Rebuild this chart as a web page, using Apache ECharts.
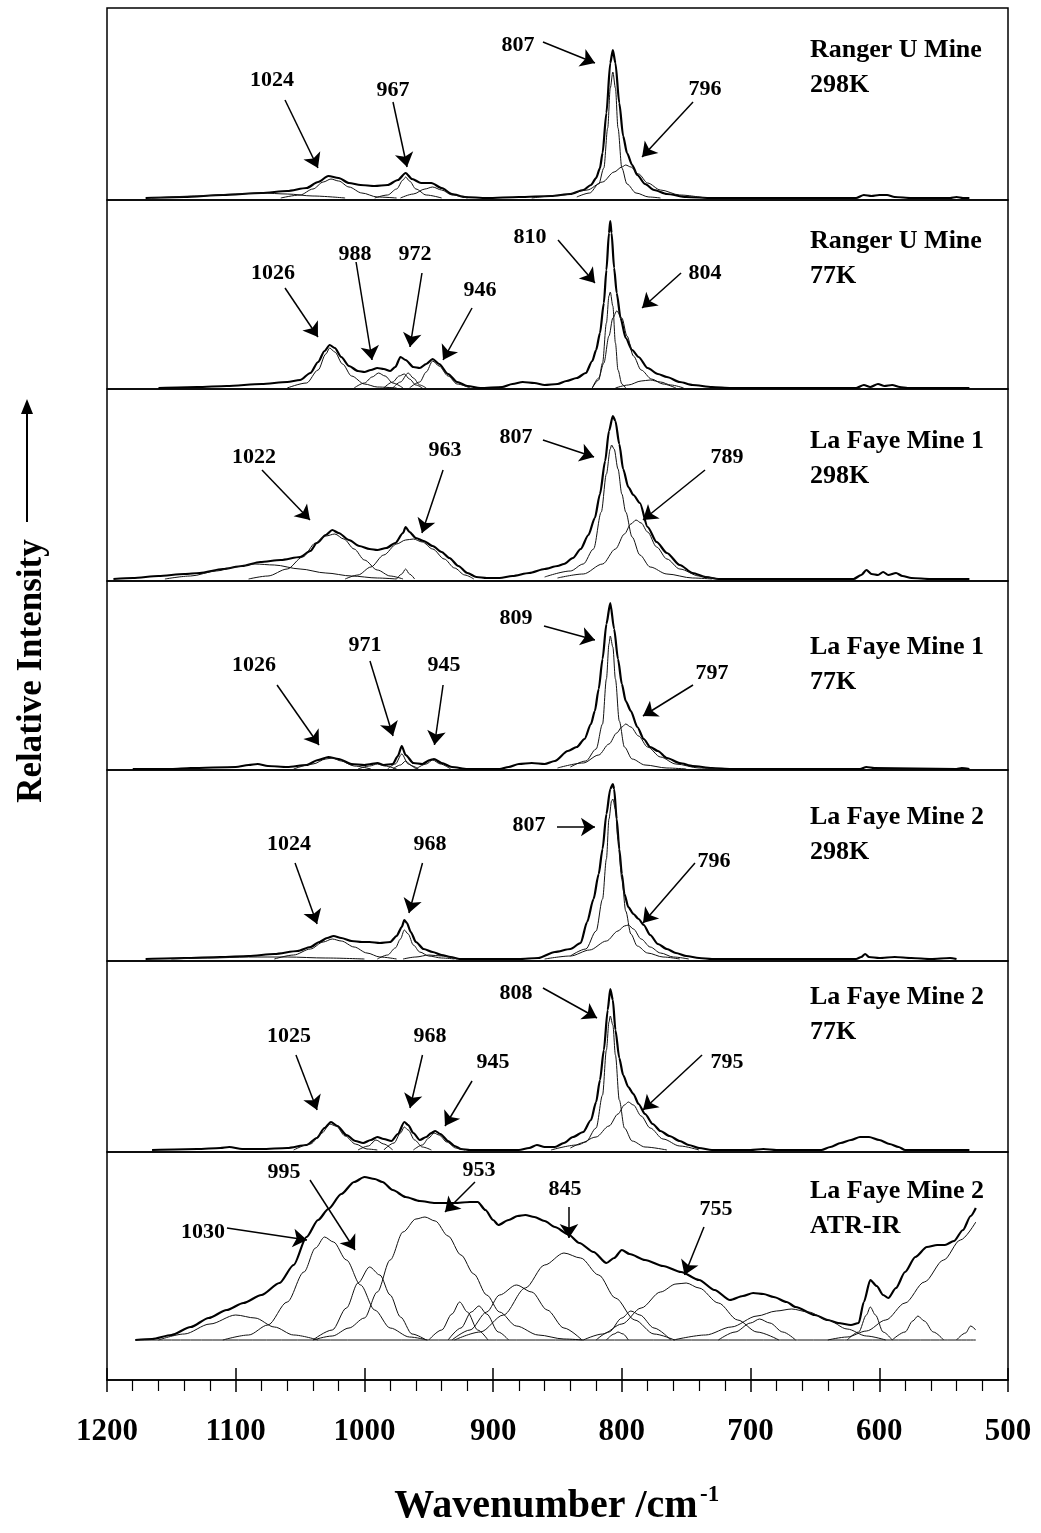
<!DOCTYPE html>
<html>
<head>
<meta charset="utf-8">
<script src="https://cdn.jsdelivr.net/npm/echarts@6/dist/echarts.min.js"></script>
<style>
  html, body { margin: 0; background: #fff; }
  #chart { width: 1041px; height: 1533px; }
</style>
</head>
<body>
<div id="chart"></div>
<script>
// wavenumber range (cm-1)
const wnMin = 500, wnMax = 1200, wnStep = 100;

// heights are read off the picture, in pixels above each panel's baseline
// ---- Ranger U Mine 298K
const env1 = [[1170,0],[1140,1],[1110,3],[1080,5],[1060,7],[1045,10],[1036,16],[1028,22],[1020,20],[1012,15],[1003,13],[992,12],[982,13],[974,18],[968,25],[963,19],[956,15],[948,15],[940,10],[932,4],[922,1],[905,0],[880,1],[855,2],[840,4],[830,8],[824,13],[820,20],[817,30],[815,45],[812,85],[809,135],[807,148],[805,135],[802,95],[799,62],[796,45],[792,33],[788,23],[782,14],[775,8],[765,4],[750,1],[730,0],[618,0],[612,3],[606,2],[600,3],[594,3],[588,1],[575,0],[545,0],[540,1],[535,0],[530,0]];
const c1a = [[835,1],[825,5],[818,14],[814,30],[811,70],[809,110],[807,126],[805,110],[803,70],[800,30],[796,14],[789,5],[779,1],[770,0]];
const c1b = [[870,0],[845,3],[827,8],[815,16],[806,26],[800,31],[797,33],[793,31],[787,24],[780,15],[770,8],[755,3],[735,0]];
const c1c = [[1065,0],[1050,3],[1040,9],[1032,16],[1026,19],[1020,17],[1012,11],[1002,5],[990,1],[975,0]];
const c1d = [[992,0],[982,3],[975,9],[970,18],[968,21],[965,17],[960,9],[952,3],[940,0]];
const c1e = [[972,0],[962,4],[953,9],[947,11],[940,8],[932,3],[920,0]];
const c1f = [[1165,0],[1130,2],[1100,4],[1080,5],[1060,4],[1040,2],[1015,0]];
const peaks1 = [
  ['1024', [1071.8,118], [1061.7,98], [1036.1,30]],
  ['967', [977.8,108], [977.8,96], [966.9,31]],
  ['807', [880.7,153], [861.3,156], [820.9,135]],
  ['796', [735.4,109], [744.7,96], [784.3,41]]
];

// ---- Ranger U Mine 77K
const env2 = [[1160,0],[1130,1],[1107,2],[1080,4],[1060,6],[1050,8],[1042,15],[1036,26],[1031,37],[1027,43],[1023,40],[1018,31],[1012,22],[1005,17],[1000,16],[995,18],[990,20],[985,19],[980,17],[976,21],[972,31],[968,28],[962,21],[957,20],[952,24],[947,29],[942,24],[935,14],[928,6],[920,2],[910,0],[893,1],[885,4],[877,6],[868,5],[860,3],[850,4],[843,7],[835,10],[828,15],[823,27],[820,38],[817,55],[814,85],[812,118],[810,155],[809,167],[808,155],[806,120],[804,95],[801,70],[797,50],[792,38],[787,31],[780,20],[772,14],[765,11],[755,6],[745,3],[730,1],[715,0],[618,0],[612,3],[607,1],[601,4],[596,2],[590,3],[584,1],[578,0],[530,0]];
const c2a = [[823,0],[818,8],[815,25],[812,65],[810,92],[809,96],[807,82],[805,45],[803,18],[800,4],[797,0]];
const c2b = [[823,0],[818,10],[814,25],[810,52],[807,70],[804,77],[800,70],[796,52],[791,32],[785,18],[777,9],[768,4],[758,0]];
const c2c = [[805,0],[795,3],[785,7],[778,8],[770,6],[762,3],[752,0]];
const c2d = [[1060,0],[1045,5],[1036,18],[1030,34],[1027,40],[1023,36],[1017,24],[1010,12],[1000,4],[990,1],[975,0]];
const c2e = [[1008,0],[1000,5],[994,11],[989,15],[984,12],[978,5],[970,0]];
const c2f = [[985,0],[978,6],[973,12],[969,14],[965,9],[960,3],[955,0]];
const c2g = [[978,0],[972,6],[966,15],[962,10],[957,3],[952,0]];
const c2h = [[965,0],[957,6],[952,16],[947,27],[942,22],[935,12],[928,4],[918,0]];
const peaks2 = [
  ['1026', [1071.0,115], [1061.7,100], [1036.1,51]],
  ['988', [1007.3,134], [1006.5,126], [994.1,28]],
  ['972', [960.7,134], [955.3,115], [964.6,41]],
  ['946', [910.2,98], [916.4,80], [938.9,28]],
  ['810', [871.4,151], [849.6,148], [820.9,105]],
  ['804', [735.4,115], [754.0,115], [784.3,80]]
];

// ---- La Faye Mine 1 298K
const env3 = [[1195,0],[1180,1],[1160,3],[1140,5],[1128,6],[1110,10],[1095,13],[1081,17],[1065,19],[1050,22],[1042,28],[1037,36],[1030,44],[1025,49],[1020,46],[1012,39],[1004,33],[996,30],[990,29],[983,31],[976,36],[970,46],[968,52],[965,47],[960,41],[954,38],[947,33],[940,27],[934,21],[927,13],[920,6],[913,2],[905,1],[895,1],[885,3],[872,6],[860,10],[850,13],[845,15],[838,21],[832,30],[826,44],[821,61],[817,85],[813,118],[810,148],[807,163],[805,158],[802,135],[799,110],[795,92],[791,84],[786,76],[780,52],[773,37],[765,26],[755,14],[745,6],[735,2],[725,0],[620,0],[614,4],[610,9],[606,5],[601,4],[597,7],[593,4],[587,6],[582,3],[575,1],[560,0],[530,0]];
const c3a = [[860,2],[840,8],[830,15],[822,30],[816,67],[812,105],[809,130],[808,134],[806,130],[803,110],[800,85],[797,67],[792,42],[786,24],[778,12],[765,5],[745,1],[730,0]];
const c3b = [[850,1],[830,5],[815,15],[805,30],[798,45],[793,55],[789,59],[785,56],[780,47],[773,32],[765,20],[755,10],[740,3],[725,0]];
const c3c = [[1090,0],[1075,3],[1060,10],[1048,22],[1038,36],[1030,43],[1023,45],[1016,40],[1008,30],[1000,19],[990,9],[980,3],[970,0]];
const c3d = [[1015,0],[1005,4],[995,12],[985,24],[975,35],[968,39],[962,40],[955,37],[947,30],[938,20],[930,11],[922,4],[915,0]];
const c3e = [[1155,0],[1135,3],[1115,8],[1100,12],[1085,15],[1070,14],[1050,10],[1030,6],[1010,3],[990,1],[975,0]];
const c3f = [[975,0],[971,5],[968,10],[965,5],[961,0]];
const peaks3 = [
  ['1022', [1085.8,122], [1079.6,109], [1042.3,59]],
  ['963', [937.4,129], [938.9,109], [955.3,46]],
  ['807', [882.2,142], [861.3,139], [821.6,122]],
  ['789', [718.3,122], [735.4,109], [783.6,59]]
];

// ---- La Faye Mine 1 77K
const env4 = [[1180,0],[1150,0],[1135,1],[1100,2],[1090,4],[1083,5],[1075,3],[1060,2],[1045,4],[1036,9],[1028,12],[1020,10],[1010,5],[1000,4],[995,5],[990,6],[985,4],[978,5],[974,13],[971,23],[968,14],[962,6],[955,5],[949,9],[946,10],[940,6],[932,2],[920,0],[895,0],[888,2],[880,5],[870,6],[860,5],[852,8],[842,18],[835,22],[829,30],[824,45],[821,58],[818,80],[815,110],[812,145],[809,166],[806,140],[803,110],[800,85],[797,68],[793,58],[788,42],[783,30],[778,22],[772,18],[765,11],[755,6],[745,3],[730,1],[715,0],[615,0],[610,2],[604,1],[540,0],[536,1],[530,0]];
const c4a = [[840,2],[828,8],[820,20],[815,45],[812,90],[810,125],[809,133],[807,122],[805,90],[802,48],[798,22],[792,10],[782,4],[765,1],[750,0]];
const c4b = [[850,1],[830,6],[818,14],[810,25],[804,36],[800,42],[797,45],[793,42],[787,33],[780,22],[770,12],[758,5],[740,1],[725,0]];
const c4c = [[982,0],[976,5],[971,15],[966,5],[960,0]];
const c4d = [[978,0],[972,4],[968,8],[963,3],[958,0]];
const c4e = [[960,0],[952,5],[947,9],[941,5],[933,0]];
const c4f = [[1055,0],[1040,5],[1030,10],[1025,11],[1018,8],[1008,3],[995,0]];
const c4g = [[1005,0],[996,3],[990,5],[984,3],[975,0]];
const peaks4 = [
  ['1026', [1085.8,104], [1067.9,84], [1035.3,24]],
  ['971', [999.6,124], [995.7,108], [977.8,33]],
  ['945', [938.2,104], [938.9,84], [945.6,24]],
  ['809', [882.2,151], [860.5,143], [820.9,129]],
  ['797', [729.9,96], [744.7,84], [783.6,53]]
];

// ---- La Faye Mine 2 298K
const env5 = [[1170,0],[1140,1],[1112,2],[1090,3],[1070,5],[1052,8],[1042,12],[1035,17],[1029,21],[1024,23],[1018,21],[1010,18],[1002,17],[996,17],[988,16],[980,17],[975,23],[971,32],[969,39],[967,36],[964,27],[960,17],[954,10],[947,7],[940,4],[933,2],[926,0],[880,0],[865,1],[852,7],[840,10],[832,16],[827,37],[822,60],[818,85],[815,110],[812,145],[809,170],[807,175],[806,170],[804,140],[802,110],[800,85],[798,65],[795,52],[791,45],[787,40],[783,34],[778,24],[772,15],[765,10],[758,6],[750,3],[740,1],[730,0],[618,0],[614,2],[611,5],[608,2],[600,1],[588,2],[575,1],[560,0],[545,1],[540,0]];
const c5a = [[840,3],[828,10],[820,28],[815,60],[812,100],[810,140],[808,158],[807,160],[805,150],[803,120],[800,80],[797,48],[793,25],[788,13],[780,6],[768,2],[755,0]];
const c5b = [[860,0],[840,3],[825,9],[812,18],[803,28],[798,33],[795,34],[791,30],[785,20],[778,12],[770,6],[760,2],[748,0]];
const c5c = [[990,0],[982,4],[976,11],[972,20],[969,29],[966,25],[962,14],[957,7],[950,3],[940,1],[930,0]];
const c5d = [[1070,0],[1055,4],[1042,10],[1032,17],[1025,20],[1018,18],[1008,12],[998,6],[988,2],[975,0]];
const c5e = [[970,0],[960,2],[950,4],[940,3],[928,0]];
const c5f = [[1150,0],[1120,1],[1090,2],[1060,2],[1030,1],[1000,0]];
const peaks5 = [
  ['1024', [1058.6,115], [1053.9,96], [1036.8,35]],
  ['968', [949.0,115], [954.9,96], [965.4,46]],
  ['807', [872.1,134], [850.4,132], [820.9,132]],
  ['796', [728.4,98], [743.2,96], [783.6,36]]
];

// ---- La Faye Mine 2 77K
const env6 = [[1165,0],[1130,1],[1112,2],[1105,3],[1095,1],[1080,1],[1060,2],[1045,5],[1037,12],[1031,22],[1026,28],[1021,24],[1014,15],[1007,9],[1001,7],[995,10],[990,13],[985,11],[979,9],[974,16],[969,28],[966,25],[962,17],[957,10],[952,13],[948,17],[945,19],[941,16],[935,9],[930,4],[925,1],[918,0],[880,0],[872,2],[866,5],[860,3],[852,3],[845,7],[838,13],[830,18],[824,30],[820,48],[817,70],[814,100],[811,140],[809,161],[807,150],[805,120],[802,92],[799,75],[795,63],[791,56],[787,46],[782,36],[776,26],[770,19],[763,14],[755,9],[748,5],[740,2],[730,0],[700,0],[690,1],[680,0],[645,0],[638,3],[630,7],[622,10],[615,13],[608,13],[600,10],[592,6],[585,3],[580,0],[530,0]];
const c6a = [[840,2],[828,8],[820,22],[815,55],[812,100],[810,128],[809,134],[807,125],[805,95],[802,50],[798,22],[792,9],[782,3],[765,0]];
const c6b = [[855,0],[835,5],[820,13],[810,24],[803,36],[798,45],[795,48],[791,45],[785,34],[778,22],[768,11],[755,4],[740,0]];
const c6c = [[1055,0],[1042,6],[1033,17],[1027,26],[1022,24],[1015,14],[1007,6],[998,1],[990,0]];
const c6d = [[1005,0],[997,4],[991,10],[985,6],[978,0]];
const c6e = [[985,0],[977,7],[972,17],[969,23],[966,20],[961,10],[955,3],[948,0]];
const c6f = [[962,0],[955,5],[950,12],[946,17],[942,15],[936,8],[929,2],[922,0]];
const peaks6 = [
  ['808', [882.2,157], [861.3,162], [819.3,132]],
  ['1025', [1058.6,114], [1053.2,95], [1036.8,40]],
  ['968', [949.0,114], [954.9,95], [964.6,42]],
  ['945', [900.1,88], [916.4,69], [937.4,24]],
  ['795', [718.3,88], [737.7,95], [783.6,40]]
];

// ---- La Faye Mine 2 ATR-IR
const env7 = [[1178,0],[1165,1],[1150,5],[1135,13],[1121,22],[1107,30],[1094,37],[1080,45],[1066,57],[1055,75],[1045,103],[1036,120],[1028,131],[1018,146],[1008,158],[1000,163],[992,161],[986,158],[978,150],[968,143],[957,139],[945,137],[930,137],[918,138],[912,138],[906,130],[900,120],[896,115],[888,120],[881,124],[875,125],[868,123],[860,119],[852,113],[842,106],[833,97],[822,88],[812,77],[806,82],[800,90],[794,86],[782,80],[768,74],[754,68],[740,60],[728,50],[716,40],[706,44],[698,47],[690,46],[682,43],[672,38],[665,33],[650,25],[640,20],[632,17],[622,15],[616,17],[612,38],[607,60],[602,54],[597,45],[593,42],[587,52],[580,68],[572,83],[563,93],[555,95],[549,95],[542,99],[535,110],[529,124],[525,132]];
const c7a = [[1160,0],[1140,6],[1120,16],[1100,25],[1085,22],[1070,13],[1055,5],[1036,0]];
const c7b = [[1110,0],[1090,5],[1075,15],[1060,38],[1047,68],[1038,92],[1031,103],[1024,98],[1014,80],[1003,55],[992,30],[980,12],[965,3],[951,0]];
const c7c = [[1040,0],[1025,10],[1014,32],[1005,57],[996,73],[988,65],[980,45],[972,23],[963,6],[952,0]];
const c7d = [[1040,0],[1025,4],[1012,12],[1000,22],[990,48],[980,80],[970,108],[960,121],[953,123],[945,119],[935,104],[925,85],[915,66],[905,45],[895,28],[882,14],[865,5],[845,1],[830,0]];
const c7e = [[950,0],[940,10],[932,26],[926,38],[920,28],[912,10],[904,0]];
const c7f = [[935,0],[925,12],[917,28],[911,34],[905,26],[896,8],[888,0]];
const c7g = [[932,0],[918,10],[905,28],[895,45],[882,55],[870,48],[858,30],[845,12],[831,0]];
const c7h = [[930,0],[910,8],[892,25],[875,52],[860,75],[845,87],[832,82],[818,65],[805,42],[790,20],[775,6],[759,0]];
const c7i = [[820,0],[810,8],[800,22],[793,29],[786,25],[775,12],[762,0]];
const c7j = [[812,0],[806,6],[803,8],[799,6],[795,0]];
const c7k = [[830,0],[815,6],[800,16],[785,32],[770,48],[758,56],[750,57],[740,52],[725,37],[710,20],[695,8],[678,0]];
const c7l = [[725,0],[712,8],[700,17],[693,21],[685,17],[675,8],[665,0]];
const c7m = [[760,0],[735,5],[715,13],[695,24],[680,29],[668,31],[655,28],[640,20],[625,11],[610,4],[595,0]];
const c7n = [[625,0],[616,8],[610,25],[607,33],[603,25],[597,8],[590,0]];
const c7o = [[590,0],[580,8],[574,19],[570,24],[565,19],[558,8],[550,0]];
const c7p = [[540,0],[533,7],[529,14],[525,10]];
const c7q = [[640,0],[625,3],[610,9],[595,20],[580,37],[565,58],[550,80],[537,100],[525,118]];
const c7r = [[1178,0],[525,0]];
const peaks7 = [
  ['995', [1062.5,168], [1042.3,160], [1007.3,90]],
  ['1030', [1125.4,108], [1106.8,112], [1044.6,100]],
  ['953', [910.9,170], [914.1,158], [937.4,128]],
  ['845', [844.2,151], [841.1,133], [841.1,102]],
  ['755', [726.8,131], [736.2,113], [751.3,65]]
];

const panelNames = ['Ranger U Mine\n298K', 'Ranger U Mine\n77K', 'La Faye Mine 1\n298K',
  'La Faye Mine 1\n77K', 'La Faye Mine 2\n298K', 'La Faye Mine 2\n77K', 'La Faye Mine 2\nATR-IR'];

const panels = [
  { env: env1, comps: [c1a, c1b, c1c, c1d, c1e, c1f], peaks: peaks1 },
  { env: env2, comps: [c2a, c2b, c2c, c2d, c2e, c2f, c2g, c2h], peaks: peaks2 },
  { env: env3, comps: [c3a, c3b, c3c, c3d, c3e, c3f], peaks: peaks3 },
  { env: env4, comps: [c4a, c4b, c4c, c4d, c4e, c4f, c4g], peaks: peaks4 },
  { env: env5, comps: [c5a, c5b, c5c, c5d, c5e, c5f], peaks: peaks5 },
  { env: env6, comps: [c6a, c6b, c6c, c6d, c6e, c6f], peaks: peaks6 },
  { env: env7, comps: [c7a, c7b, c7c, c7d, c7e, c7f, c7g, c7h, c7i, c7j, c7k, c7l, c7m, c7n, c7o, c7p, c7q, c7r], peaks: peaks7 }
];

// layout: [top, bottom, ymin, ymax] in px for each panel
const boxes = [[8,200,-2,190],[200,389,-1,188],[389,581,-2,190],[581,770,-1,188],
  [770,961,-2,189],[961,1152,-2,189],[1152,1380,-40,188]];
const labelTops = [33, 224, 424, 630, 800, 980, 1174];

const serif = '"Liberation Serif","Times New Roman",serif';
const chart = echarts.init(document.getElementById('chart'));

const grid = [], xAxis = [], yAxis = [], series = [];
boxes.forEach((b, i) => {
  grid.push({ left: 107, width: 901, top: b[0], height: b[1] - b[0], show: true,
    borderColor: '#000', borderWidth: 1.5, backgroundColor: 'transparent' });
  yAxis.push({ gridIndex: i, type: 'value', min: b[2], max: b[3], show: false });
  xAxis.push({ gridIndex: i, type: 'value', min: wnMin, max: wnMax, inverse: true, show: false });
});

// bottom axis with ticks and labels
xAxis[6] = {
  gridIndex: 6, type: 'value', position: 'bottom', min: wnMin, max: wnMax, interval: wnStep, inverse: true,
  axisLine: { show: true, onZero: false, lineStyle: { color: '#000', width: 1.5 } },
  axisTick: { show: true, length: 12, lineStyle: { color: '#000', width: 1.5 } },
  minorTick: { show: true, splitNumber: 5, length: 11, lineStyle: { color: '#000', width: 1.2 } },
  axisLabel: { margin: 36, fontFamily: serif, fontWeight: 'bold', fontSize: 31, color: '#000',
    formatter: v => String(v) },
  splitLine: { show: false }, minorSplitLine: { show: false }
};
// same ticks pointing up into the panel
xAxis.push({
  gridIndex: 6, type: 'value', position: 'bottom', min: wnMin, max: wnMax, interval: wnStep, inverse: true,
  axisLine: { show: false, onZero: false },
  axisTick: { show: true, inside: true, length: 12, lineStyle: { color: '#000', width: 1.5 } },
  axisLabel: { show: false }, splitLine: { show: false }
});

panels.forEach((p, i) => {
  series.push({
    type: 'line', xAxisIndex: i, yAxisIndex: i, data: p.env, showSymbol: false,
    smooth: 0.25, smoothMonotone: 'x', silent: true,
    lineStyle: { color: '#000', width: 2.2 },
    // peak labels
    markPoint: {
      silent: true, symbol: 'circle', symbolSize: 0,
      label: { show: true, position: 'inside', formatter: '{b}', color: '#000',
        textBorderWidth: 0, fontFamily: serif, fontWeight: 'bold', fontSize: 22 },
      data: p.peaks.map(k => ({ name: k[0], coord: k[1] }))
    },
    // arrows from labels to peaks
    markLine: {
      silent: true, symbol: ['none', 'arrow'], symbolSize: 14,
      label: { show: false },
      lineStyle: { color: '#000', width: 1.5, type: 'solid', opacity: 1 },
      data: p.peaks.map(k => [{ coord: k[2] }, { coord: k[3] }])
    }
  });
  p.comps.forEach(c => {
    series.push({
      type: 'line', xAxisIndex: i, yAxisIndex: i, data: c, showSymbol: false,
      smooth: 0.3, smoothMonotone: 'x', silent: true,
      lineStyle: { color: '#111', width: 1 }
    });
  });
});

const graphic = panelNames.map((t, i) => ({
  type: 'text', x: 810, y: labelTops[i], silent: true,
  style: { text: t, fill: '#000', font: 'bold 26px ' + serif, lineHeight: 35,
    align: 'left', verticalAlign: 'top' }
}));
graphic.push(
  { type: 'text', x: 32, y: 671, rotation: Math.PI / 2, silent: true,
    style: { text: 'Relative Intensity', fill: '#000', font: 'bold 35px ' + serif,
      align: 'center', verticalAlign: 'middle' } },
  { type: 'line', silent: true, shape: { x1: 27, y1: 522, x2: 27, y2: 410 },
    style: { stroke: '#000', lineWidth: 2 } },
  { type: 'polygon', silent: true, shape: { points: [[21, 414], [33, 414], [27, 399]] },
    style: { fill: '#000' } },
  { type: 'text', x: 546, y: 1507, silent: true,
    style: { text: 'Wavenumber /cm', fill: '#000', font: 'bold 40px ' + serif,
      align: 'center', verticalAlign: 'middle' } },
  { type: 'text', x: 700, y: 1484, silent: true,
    style: { text: '-1', fill: '#000', font: 'bold 23px ' + serif,
      align: 'left', verticalAlign: 'top' } }
);

chart.setOption({
  animation: false,
  backgroundColor: '#fff',
  grid: grid,
  xAxis: xAxis,
  yAxis: yAxis,
  series: series,
  graphic: graphic
});
</script>
</body>
</html>
